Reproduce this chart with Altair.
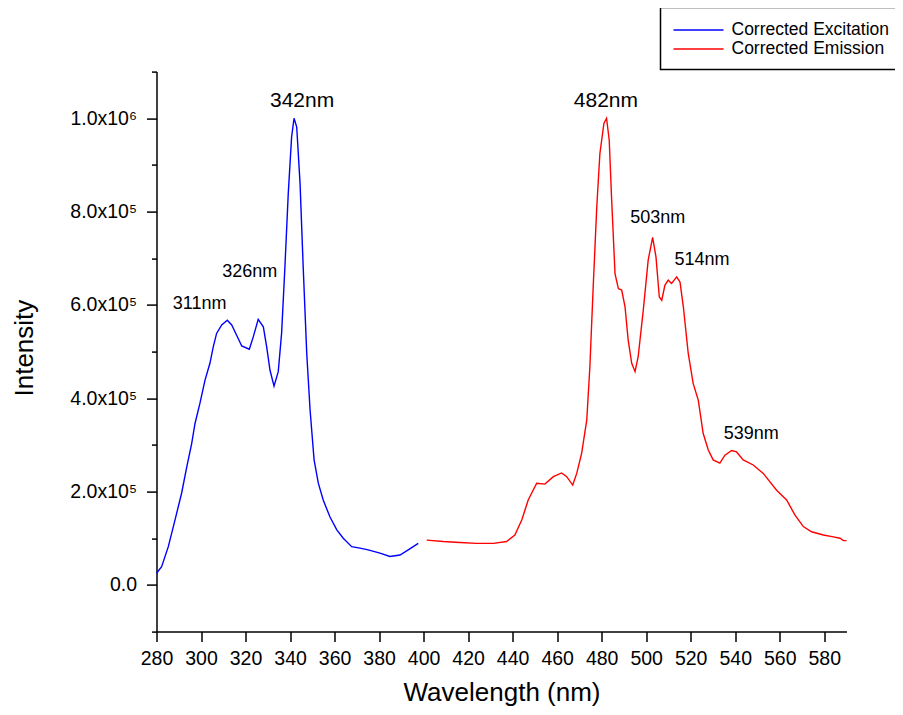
import altair as alt
import pandas as pd

F = "Liberation Sans"

# ---------------- data ----------------
exc_nm = [280, 282.3, 285.3, 288.3, 291.3, 293.6, 295.8, 297.3, 299.5, 301.8,
          304.0, 305.5, 307.0, 309.3, 311.8, 313.8, 316.0, 318.3, 321.7, 323.5,
          325.7, 328.0, 329.5, 331.0, 332.8, 334.7, 336.2, 337.7, 339.2, 340.7,
          341.8, 343.0, 344.5, 345.9, 347.5, 349.0, 350.8, 352.7, 354.9, 357.9,
          361.0, 363.9, 367.7, 371.4, 375.1, 380.4, 384.9, 389.4, 393.1, 397.6]
exc_int = [25000, 39000, 82000, 139000, 197000, 253000, 303000, 346000, 389000, 439000,
           475000, 510000, 539000, 557000, 567000, 557000, 535000, 512000, 505000, 532000,
           569000, 553000, 510000, 460000, 426000, 457000, 539000, 682000, 839000, 960000,
           1000000, 981000, 860000, 682000, 496000, 375000, 268000, 218000, 182000, 146000,
           118000, 100000, 82000, 79000, 75000, 68000, 61000, 64000, 75000, 89000]

emi_nm = [401.4, 408.8, 416.3, 423.8, 431.3, 437.3, 441.0, 444.1, 447.0, 450.8,
          454.5, 458.3, 462.0, 464.3, 467.0, 468.8, 471.0, 473.3, 474.7, 476.2,
          477.8, 479.2, 481.0, 482.2, 483.4, 484.5, 486.0, 487.5, 489.0, 490.5,
          491.9, 493.5, 495.0, 496.4, 498.7, 500.9, 502.9, 504.4, 505.9, 507.0,
          508.4, 509.9, 511.4, 513.7, 515.2, 516.7, 518.9, 521.1, 523.4, 525.6,
          527.9, 530.1, 533.1, 535.4, 538.4, 540.6, 543.6, 548.1, 552.6, 558.6,
          563.1, 566.8, 570.6, 574.3, 579.6, 584.1, 587.1, 588.6, 590.0]
emi_int = [96000, 93000, 91000, 89000, 89000, 93000, 107000, 139000, 182000, 218000,
           216000, 232000, 240000, 232000, 214000, 239000, 282000, 353000, 467000, 639000,
           810000, 924000, 989000, 1000000, 953000, 824000, 667000, 635000, 632000, 596000,
           525000, 475000, 457000, 489000, 589000, 696000, 745000, 703000, 617000, 610000,
           642000, 653000, 646000, 660000, 649000, 596000, 496000, 432000, 396000, 325000,
           289000, 268000, 261000, 278000, 288000, 285000, 268000, 257000, 239000, 203000,
           182000, 150000, 125000, 114000, 107000, 103000, 100000, 95000, 95000]

series_names = ["Corrected Excitation", "Corrected Emission"]
series_colors = ["#0000ff", "#ff0000"]

major_text = ["342nm", "482nm"]
major_nm = [345.4, 481.9]
major_int = [1037000, 1037000]

minor_text = ["311nm", "326nm", "503nm", "514nm", "539nm"]
minor_nm = [299.4, 321.9, 505.2, 525.1, 547.2]
minor_int = [602000, 670000, 787000, 697000, 323000]

x_ticks = list(range(280, 591, 10))
y_ticks = list(range(-100000, 1100001, 100000))

# ---------------- tables ----------------
df = pd.concat([
    pd.DataFrame({"nm": exc_nm, "intensity": exc_int, "series": series_names[0]}),
    pd.DataFrame({"nm": emi_nm, "intensity": emi_int, "series": series_names[1]}),
])
df_major = pd.DataFrame({"nm": major_nm, "intensity": major_int, "label": major_text})
df_minor = pd.DataFrame({"nm": minor_nm, "intensity": minor_int, "label": minor_text})

x_scale = alt.Scale(domain=[280, 590], nice=False, zero=False)
y_scale = alt.Scale(domain=[-100000, 1100000], nice=False, zero=False)

x_axis = alt.Axis(
    values=x_ticks, format="d",
    labelExpr="(datum.value % 20 == 0 && datum.value <= 580) ? datum.label : ''",
    tickSize={"condition": {"test": "datum.value % 20 == 0", "value": 10}, "value": 5},
    labelPadding=8, labelFontSize=19.5, labelFont=F, labelColor="black",
    labelOverlap=False, labelFlush=False,
    domainColor="black", domainWidth=1.5, tickColor="black", tickWidth=1.5,
    grid=False,
    titleFontSize=26, titleFont=F, titleFontWeight="normal", titleColor="black",
    titleX=345, titleY=69, titleBaseline="alphabetic", titleAlign="center",
)

y_label_expr = (
    "datum.value == 0 ? '0.0' : (datum.value < 0 || datum.value % 200000 != 0) ? '' : "
    "datum.value >= 1000000 ? format(datum.value / 1000000, '.1f') + 'x10\u2076' : "
    "format(datum.value / 100000, '.1f') + 'x10\u2075'"
)
y_axis = alt.Axis(
    values=y_ticks, labelExpr=y_label_expr,
    tickSize={"condition": {"test": "datum.value % 200000 == 0", "value": 10}, "value": 5},
    labelPadding=10, labelFontSize=19.5, labelFont=F, labelColor="black",
    labelOverlap=False, labelFlush=False,
    domainColor="black", domainWidth=1.5, tickColor="black", tickWidth=1.5,
    grid=False,
    titleFontSize=26, titleFont=F, titleFontWeight="normal", titleColor="black",
    titleX=-132, titleY=276, titleBaseline="middle", titleAlign="center", titleAngle=-90,
)

lines = alt.Chart(df).mark_line(strokeWidth=1.4).encode(
    x=alt.X("nm:Q", scale=x_scale, axis=x_axis, title="Wavelength (nm)"),
    y=alt.Y("intensity:Q", scale=y_scale, axis=y_axis, title="Intensity"),
    color=alt.Color(
        "series:N",
        scale=alt.Scale(domain=series_names, range=series_colors),
        sort=series_names,
        legend=alt.Legend(
            orient="none", legendX=504, legendY=-64, title=None,
            symbolType="M-1,0H4.263", symbolSize=361, symbolStrokeWidth=1.5,
            labelFontSize=17.5, labelFont=F, labelColor="black", labelOffset=38,
            padding=12, rowPadding=0, strokeColor="black",
        ),
    ),
)

text_major = alt.Chart(df_major).mark_text(
    font=F, fontSize=21, color="black", align="center", baseline="middle"
).encode(
    x=alt.X("nm:Q", scale=x_scale, title="Wavelength (nm)"),
    y=alt.Y("intensity:Q", scale=y_scale, title="Intensity"),
    text="label:N",
)

text_minor = alt.Chart(df_minor).mark_text(
    font=F, fontSize=18, color="black", align="center", baseline="middle"
).encode(
    x=alt.X("nm:Q", scale=x_scale, title="Wavelength (nm)"),
    y=alt.Y("intensity:Q", scale=y_scale, title="Intensity"),
    text="label:N",
)

chart = alt.layer(lines, text_major, text_minor).properties(
    width=690, height=560,
    padding={"left": 148.5, "top": 63.6, "right": 48.5, "bottom": 75.4},
    autosize=alt.AutoSizeParams(type="none"),
    background="white",
).configure_view(stroke=None).configure_legend(strokeWidth=1.5)

chart.save("out.html", embed_options={"renderer": "svg", "actions": False})
